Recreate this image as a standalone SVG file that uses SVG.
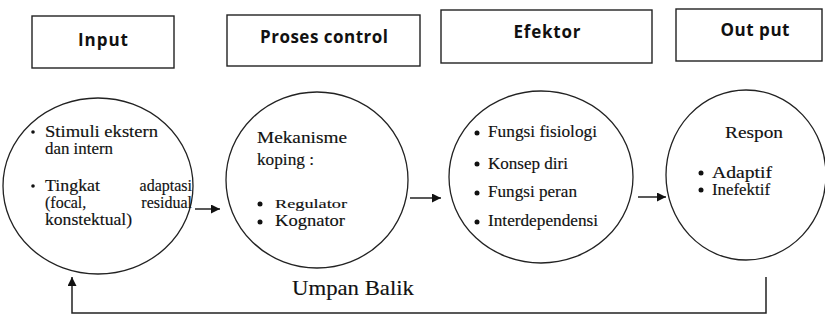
<svg xmlns="http://www.w3.org/2000/svg" width="825" height="325" viewBox="0 0 825 325">
<style>
.box{fill:#fff;stroke:#222;stroke-width:1.4}
.hdr{font-family:"Open Sans","Liberation Sans",sans-serif;font-weight:700;font-size:17px;fill:#111;text-anchor:middle}
.circ{fill:#fff;stroke:#222;stroke-width:1.3}
.t{font-family:"Liberation Serif",serif;fill:#111;stroke:#111;stroke-width:0.15}
.dot{fill:#111}
.line{fill:none;stroke:#222;stroke-width:1.5}
</style>
<defs>
<marker id="ah" viewBox="0 0 10 10" refX="10" refY="5" markerWidth="11" markerHeight="9" markerUnits="userSpaceOnUse" orient="auto">
<path d="M0,0 L10,5 L0,10 Z" fill="#111"/>
</marker>
</defs>
<rect width="825" height="325" fill="#fff"/>
<g id="hdr-input"><rect class="box" x="32" y="16" width="142" height="52"/><text class="hdr" x="103" y="46" textLength="50">Input</text></g>
<g id="hdr-proses"><rect class="box" x="227" y="15" width="193" height="51"/><text class="hdr" x="324" y="43" textLength="128">Proses control</text></g>
<g id="hdr-efektor"><rect class="box" x="441" y="10" width="211" height="53"/><text class="hdr" x="547" y="38" textLength="67">Efektor</text></g>
<g id="hdr-output"><rect class="box" x="676" y="9" width="146" height="52"/><text class="hdr" x="755" y="36" textLength="69">Out put</text></g>

<g id="node-input">
<ellipse class="circ" cx="98" cy="186" rx="95" ry="88"/>
<circle class="dot" cx="33" cy="132" r="1.8"/>
<text class="t" x="45" y="137" font-size="16" textLength="113" lengthAdjust="spacingAndGlyphs">Stimuli ekstern</text>
<text class="t" x="45" y="154" font-size="16" textLength="68" lengthAdjust="spacingAndGlyphs">dan intern</text>
<circle class="dot" cx="33" cy="186" r="1.8"/>
<text class="t" y="191" font-size="16"><tspan x="45" textLength="55" lengthAdjust="spacingAndGlyphs">Tingkat</tspan><tspan x="192" text-anchor="end">adaptasi</tspan></text>
<text class="t" y="208" font-size="16"><tspan x="45">(focal,</tspan><tspan x="192" text-anchor="end">residual</tspan></text>
<text class="t" x="45" y="225" font-size="16" textLength="87" lengthAdjust="spacingAndGlyphs">konstektual)</text>
</g>

<g id="node-proses">
<ellipse class="circ" cx="317" cy="180" rx="91" ry="88"/>
<text class="t" x="257" y="143" font-size="16" textLength="90" lengthAdjust="spacingAndGlyphs">Mekanisme</text>
<text class="t" x="257" y="165" font-size="16" textLength="57" lengthAdjust="spacingAndGlyphs">koping :</text>
<circle class="dot" cx="260" cy="204" r="2.5"/>
<text class="t" x="275" y="208" font-size="13" textLength="72" lengthAdjust="spacingAndGlyphs">Regulator</text>
<circle class="dot" cx="260" cy="222" r="2.5"/>
<text class="t" x="275" y="226" font-size="16" textLength="70" lengthAdjust="spacingAndGlyphs">Kognator</text>
</g>

<g id="node-efektor">
<ellipse class="circ" cx="541" cy="177" rx="92" ry="86"/>
<circle class="dot" cx="477" cy="133" r="2.5"/>
<text class="t" x="488" y="137" font-size="16" textLength="109" lengthAdjust="spacingAndGlyphs">Fungsi fisiologi</text>
<circle class="dot" cx="477" cy="164" r="2.5"/>
<text class="t" x="488" y="169" font-size="16" textLength="80" lengthAdjust="spacingAndGlyphs">Konsep diri</text>
<circle class="dot" cx="477" cy="193" r="2.5"/>
<text class="t" x="488" y="197" font-size="16" textLength="89" lengthAdjust="spacingAndGlyphs">Fungsi peran</text>
<circle class="dot" cx="477" cy="222" r="2.5"/>
<text class="t" x="488" y="226" font-size="16" textLength="110" lengthAdjust="spacingAndGlyphs">Interdependensi</text>
</g>

<g id="node-output">
<ellipse class="circ" cx="746" cy="175" rx="80" ry="85"/>
<text class="t" x="725" y="138" font-size="16" textLength="58" lengthAdjust="spacingAndGlyphs">Respon</text>
<circle class="dot" cx="701" cy="173" r="2.5"/>
<text class="t" x="712" y="178" font-size="16" textLength="60" lengthAdjust="spacingAndGlyphs">Adaptif</text>
<circle class="dot" cx="701" cy="190" r="2.5"/>
<text class="t" x="712" y="195" font-size="16" textLength="58" lengthAdjust="spacingAndGlyphs">Inefektif</text>
</g>

<g id="connectors">
<line class="line" x1="195" y1="209" x2="220" y2="209" marker-end="url(#ah)"/>
<line class="line" x1="410" y1="198" x2="441" y2="198" marker-end="url(#ah)"/>
<line class="line" x1="638" y1="197" x2="666" y2="197" marker-end="url(#ah)"/>
<path class="line" d="M766,277 V313 H72 V277" marker-end="url(#ah)"/>
<text class="t" x="292" y="295" font-size="22" textLength="122" lengthAdjust="spacingAndGlyphs">Umpan Balik</text>
</g>
</svg>
